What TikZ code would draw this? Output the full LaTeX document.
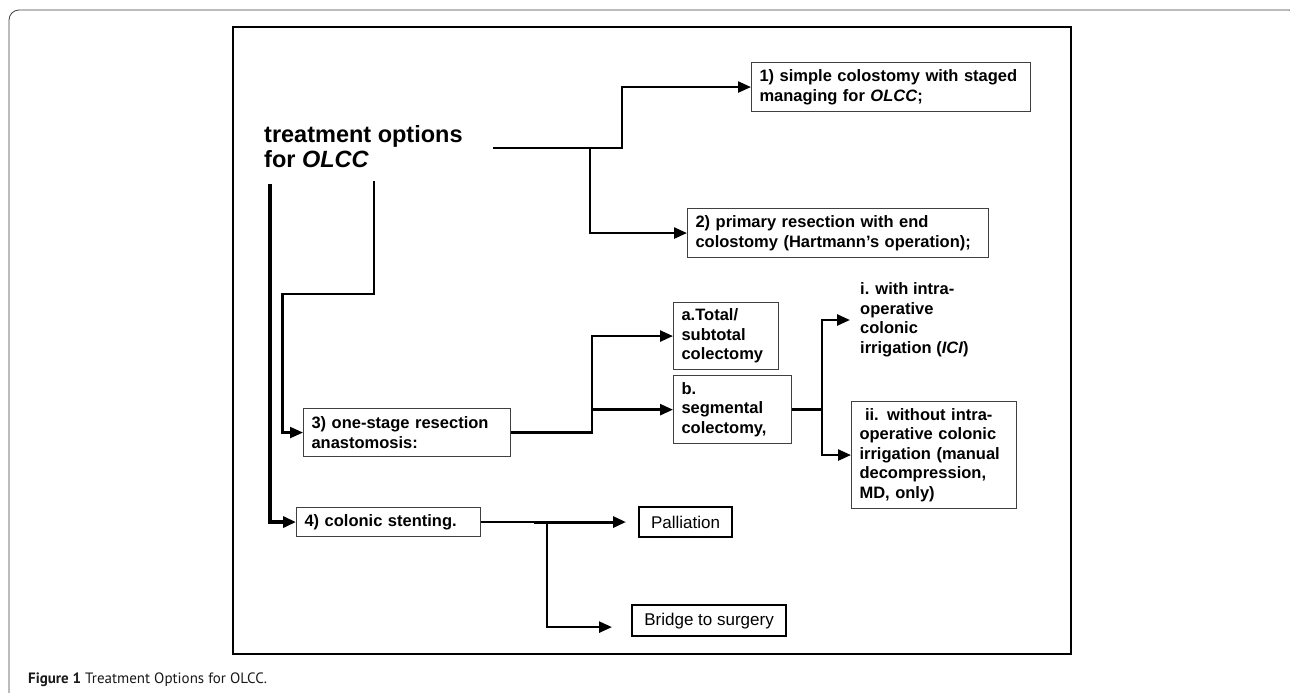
\documentclass[tikz,border=0pt]{standalone}
\usepackage{fontspec}
\setmainfont{Liberation Sans}
\newfontfamily\capfont{PT Sans}
\usetikzlibrary{arrows.meta,positioning,calc}

\begin{document}
\begin{tikzpicture}[x=1pt,y=-1pt]
		\tikzstyle{optbox} = [draw=black!75, line width=1.1pt, anchor=north west, inner xsep=8pt, inner ysep=0pt,
		align=left, font=\fontsize{16.5}{19.5}\selectfont\bfseries];
		\tikzstyle{endbox} = [draw, line width=2.2pt, anchor=north west, inner sep=0pt, align=center,
		font=\fontsize{17}{19.5}\selectfont];
		\tikzstyle{conn} = [line width=2.5pt, -{Triangle[length=13pt,width=11pt]}];
		\useasboundingbox (0,0) rectangle (1290,693);
		\draw[black!75, line width=0.8pt, rounded corners=10pt] (9,710) -- (9,10) -- (1299,10) -- (1299,60);
		\draw[line width=1.1pt] (233,27) rectangle (1071,654);
		\draw[line width=2.4pt] (232.5,27) -- (1071.5,27);
		\draw[line width=2.4pt] (232.5,654) -- (1071.5,654);
		\node[anchor=north west, inner sep=0pt, align=left, font=\fontsize{23.5}{25}\selectfont\bfseries] (title) at (264,125) {treatment options\\for \textit{OLCC}};
		\node[optbox, text width=263pt, minimum height=49pt] (colostomy) at (751,62) {1) simple colostomy with staged\\managing for \textit{OLCC};};
		\node[optbox, text width=285pt, minimum height=49pt] (hartmann) at (687,208) {2) primary resection with end\\colostomy (Hartmann's operation);};
		\node[optbox, text width=191pt, minimum height=48pt] (onestage) at (303,408) {3) one-stage resection\\anastomosis:};
		\node[optbox, text width=89pt, minimum height=67pt] (total) at (673,302) {a.Total/\\subtotal\\colectomy};
		\node[optbox, text width=102pt, minimum height=68pt, below=5pt of total.south west, anchor=north west] (segmental) {b.\\segmental\\colectomy,};
		\node[anchor=west, inner xsep=10pt, align=left, font=\fontsize{16.5}{19.5}\selectfont\bfseries] (withici) at (850,320) {i. with intra-\\operative\\colonic\\irrigation (\textit{ICI})};
		\node[optbox, text width=149pt, minimum height=107pt] (withoutici) at (851,401) {\ ii. without intra-\\operative colonic\\irrigation (manual\\decompression,\\MD, only)};
		\node[optbox, text width=168pt, minimum height=29pt] (stenting) at (296,507) {4) colonic stenting.};
		\node[endbox, minimum width=93pt, minimum height=30pt] (palliation) at (638,506) {Palliation};
		\node[endbox, minimum width=154pt, minimum height=31pt] (bridge) at (631,604) {Bridge to surgery};
		\node[anchor=base west, inner sep=0pt, text=black!90, font=\capfont\fontsize{15}{17}\selectfont] (caption) at (28,683) {\textbf{Figure 1} Treatment Options for OLCC.};
		\coordinate (t1) at (493,148);
		\coordinate (j1) at (590,148);
		\coordinate (t2) at (270,184);
		\coordinate (t3) at (374,181);
		\draw[conn] (t1) -- ++(129,0) |- (colostomy.west);
		\draw[conn] (j1) |- (hartmann.west);
		\draw[conn, line width=3.5pt] (t2) |- (stenting.west);
		\draw[conn, line width=2.2pt] (t3) -- ++(0,113) -- ++(-91.5,0) |- (onestage.west);
		\draw[conn, line width=2.6pt] (onestage.east) -- ++(81,0) coordinate (j2) |- (total.west);
		\draw[conn, line width=2.6pt] (j2 |- segmental.west) -- (segmental.west);
		\draw[line width=2.5pt] (segmental.east) -- ++(30,0) coordinate (j3);
		\draw[conn] (j3) |- (withici.west);
		\draw[conn] (j3) |- (withoutici.west);
		\draw[line width=1.5pt] (stenting.east) -- ++(53,0) coordinate (j4);
		\draw[conn, line width=3pt, shorten >=12pt] (j4) -- (j4 -| palliation.west);
		\draw[conn, shorten >=19pt] ([xshift=13pt]j4) |- ([yshift=-6.5pt]bridge.west);
	\end{tikzpicture}
\end{document}
